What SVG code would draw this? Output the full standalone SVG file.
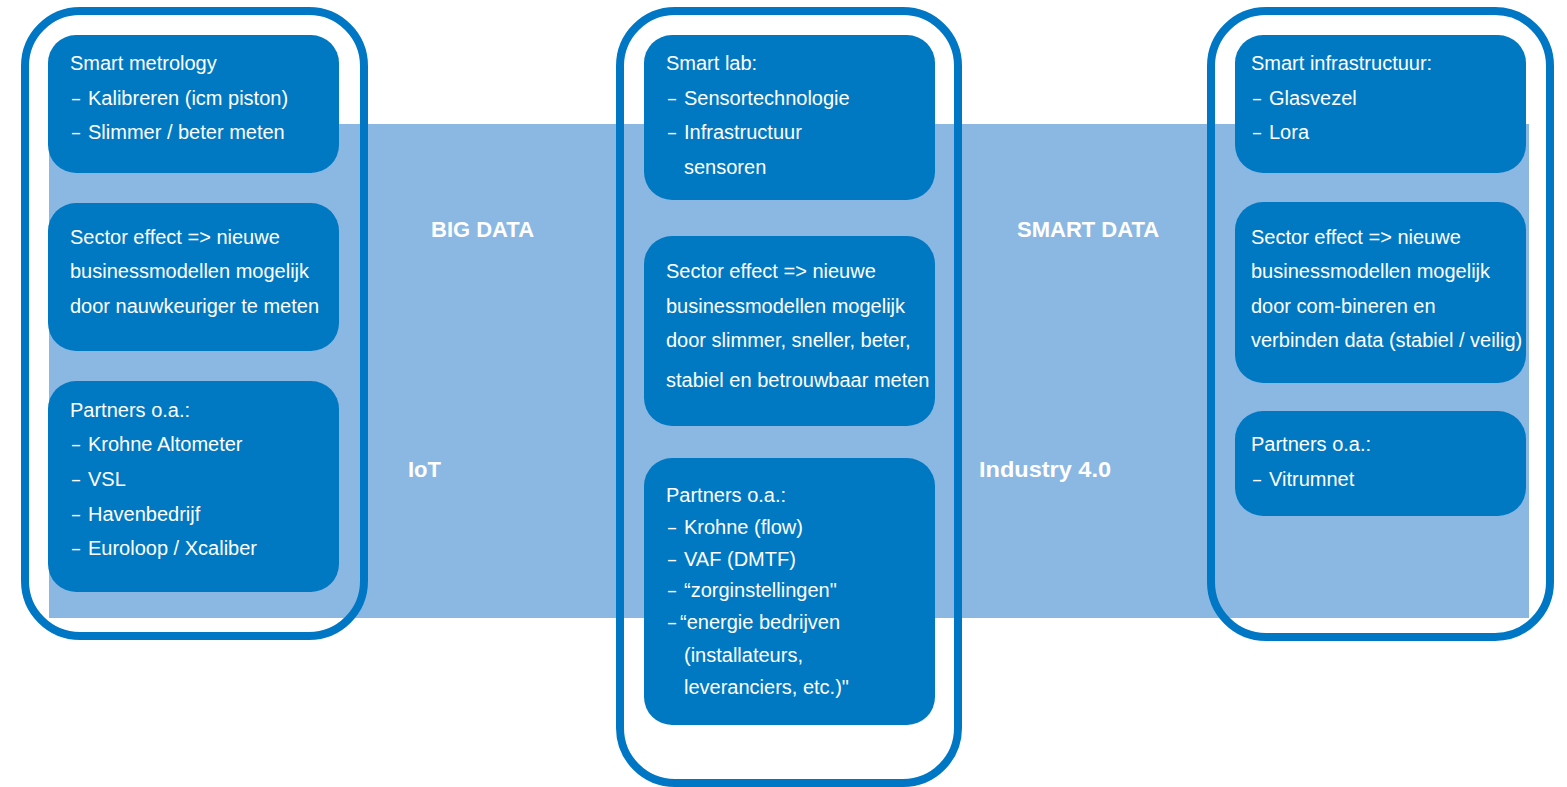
<svg xmlns="http://www.w3.org/2000/svg" width="1567" height="787" viewBox="0 0 1567 787">
<style>
.frame{fill:none;stroke:#0077c4;stroke-width:8}
.box{fill:#0079c2}
.t{font-family:"Liberation Sans",Arial,sans-serif;font-size:20px;fill:#ffffff}
.lbl{font-family:"Liberation Sans",Arial,sans-serif;font-size:22px;font-weight:bold;fill:#ffffff}
</style>
<rect x="49" y="124" width="1480" height="494" fill="#8ab8e3"/>
<g id="frames">
<rect class="frame" x="25" y="11" width="339" height="625" rx="55"/>
<rect class="frame" x="620" y="11" width="338" height="772" rx="55"/>
<rect class="frame" x="1211" y="11" width="339" height="626" rx="55"/>
</g>
<g id="labels">
<text class="lbl" x="431" y="237">BIG DATA</text>
<text class="lbl" x="1017" y="237">SMART DATA</text>
<text class="lbl" x="408" y="477">IoT</text>
<text class="lbl" x="979" y="477" textLength="132" lengthAdjust="spacingAndGlyphs">Industry 4.0</text>
</g>
<g id="left-1">
<rect class="box" x="48" y="35" width="291" height="138" rx="28"/>
<text class="t" x="70" y="70">Smart metrology</text>
<text class="t" x="72" y="105" textLength="8" lengthAdjust="spacingAndGlyphs">–</text><text class="t" x="88" y="105">Kalibreren (icm piston)</text>
<text class="t" x="72" y="139" textLength="8" lengthAdjust="spacingAndGlyphs">–</text><text class="t" x="88" y="139">Slimmer / beter meten</text>
</g>
<g id="left-2">
<rect class="box" x="48" y="203" width="291" height="148" rx="28"/>
<text class="t" x="70" y="244">Sector effect =&gt; nieuwe</text>
<text class="t" x="70" y="278">businessmodellen mogelijk</text>
<text class="t" x="70" y="313">door nauwkeuriger te meten</text>
</g>
<g id="left-3">
<rect class="box" x="48" y="381" width="291" height="211" rx="28"/>
<text class="t" x="70" y="417">Partners o.a.:</text>
<text class="t" x="72" y="451" textLength="8" lengthAdjust="spacingAndGlyphs">–</text><text class="t" x="88" y="451">Krohne Altometer</text>
<text class="t" x="72" y="486" textLength="8" lengthAdjust="spacingAndGlyphs">–</text><text class="t" x="88" y="486">VSL</text>
<text class="t" x="72" y="521" textLength="8" lengthAdjust="spacingAndGlyphs">–</text><text class="t" x="88" y="521">Havenbedrijf</text>
<text class="t" x="72" y="555" textLength="8" lengthAdjust="spacingAndGlyphs">–</text><text class="t" x="88" y="555">Euroloop / Xcaliber</text>
</g>
<g id="mid-1">
<rect class="box" x="644" y="35" width="291" height="165" rx="28"/>
<text class="t" x="666" y="70">Smart lab:</text>
<text class="t" x="668" y="105" textLength="8" lengthAdjust="spacingAndGlyphs">–</text><text class="t" x="684" y="105">Sensortechnologie</text>
<text class="t" x="668" y="139" textLength="8" lengthAdjust="spacingAndGlyphs">–</text><text class="t" x="684" y="139">Infrastructuur</text>
<text class="t" x="684" y="174">sensoren</text>
</g>
<g id="mid-2">
<rect class="box" x="644" y="236" width="291" height="190" rx="28"/>
<text class="t" x="666" y="278">Sector effect =&gt; nieuwe</text>
<text class="t" x="666" y="313">businessmodellen mogelijk</text>
<text class="t" x="666" y="347">door slimmer, sneller, beter,</text>
<text class="t" x="666" y="387">stabiel en betrouwbaar meten</text>
</g>
<g id="mid-3">
<rect class="box" x="644" y="458" width="291" height="267" rx="28"/>
<text class="t" x="666" y="502">Partners o.a.:</text>
<text class="t" x="668" y="534" textLength="8" lengthAdjust="spacingAndGlyphs">–</text><text class="t" x="684" y="534">Krohne (flow)</text>
<text class="t" x="668" y="566" textLength="8" lengthAdjust="spacingAndGlyphs">–</text><text class="t" x="684" y="566">VAF (DMTF)</text>
<text class="t" x="668" y="597" textLength="8" lengthAdjust="spacingAndGlyphs">–</text><text class="t" x="684" y="597">“zorginstellingen"</text>
<text class="t" x="668" y="629" textLength="8" lengthAdjust="spacingAndGlyphs">–</text><text class="t" x="680" y="629">“energie bedrijven</text>
<text class="t" x="684" y="662">(installateurs,</text>
<text class="t" x="684" y="694">leveranciers, etc.)"</text>
</g>
<g id="right-1">
<rect class="box" x="1235" y="35" width="291" height="138" rx="28"/>
<text class="t" x="1251" y="70">Smart infrastructuur:</text>
<text class="t" x="1253" y="105" textLength="8" lengthAdjust="spacingAndGlyphs">–</text><text class="t" x="1269" y="105">Glasvezel</text>
<text class="t" x="1253" y="139" textLength="8" lengthAdjust="spacingAndGlyphs">–</text><text class="t" x="1269" y="139">Lora</text>
</g>
<g id="right-2">
<rect class="box" x="1235" y="202" width="291" height="181" rx="28"/>
<text class="t" x="1251" y="244">Sector effect =&gt; nieuwe</text>
<text class="t" x="1251" y="278">businessmodellen mogelijk</text>
<text class="t" x="1251" y="313">door com-bineren en</text>
<text class="t" x="1251" y="347">verbinden data (stabiel / veilig)</text>
</g>
<g id="right-3">
<rect class="box" x="1235" y="411" width="291" height="105" rx="28"/>
<text class="t" x="1251" y="451">Partners o.a.:</text>
<text class="t" x="1253" y="486" textLength="8" lengthAdjust="spacingAndGlyphs">–</text><text class="t" x="1269" y="486">Vitrumnet</text>
</g>
</svg>
